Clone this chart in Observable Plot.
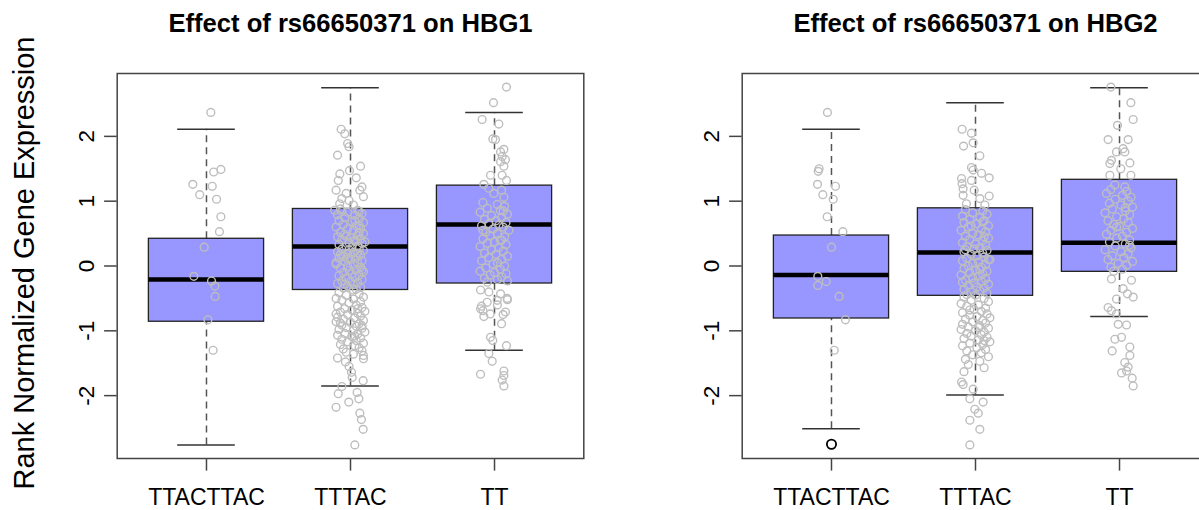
<!DOCTYPE html>
<html><head><meta charset="utf-8">
<script src="https://cdn.jsdelivr.net/npm/d3@7"></script>
<script src="https://cdn.jsdelivr.net/npm/@observablehq/plot@0.6"></script>
<style>
body{margin:0;background:#fff;}
#wrap{position:relative;width:1199px;height:510px;overflow:hidden;background:#fff;}
#wrap svg{position:absolute;top:0;}
</style></head>
<body><div id="wrap"></div>
<script>
const categories = ["TTACTTAC", "TTTAC", "TT"];
const yTicks = [-2, -1, 0, 1, 2];
const titles = ["Effect of rs66650371 on HBG1", "Effect of rs66650371 on HBG2"];
const yLabel = "Rank Normalized Gene Expression";

// box statistics (per category)
const hbg1Lo  = [-2.76, -1.85, -1.30];
const hbg1Q1  = [-0.86, -0.37, -0.27];
const hbg1Med = [-0.21,  0.30,  0.64];
const hbg1Q3  = [ 0.42,  0.88,  1.24];
const hbg1Hi  = [ 2.11,  2.75,  2.37];

const hbg2Lo  = [-2.51, -1.99, -0.78];
const hbg2Q1  = [-0.81, -0.46, -0.09];
const hbg2Med = [-0.14,  0.21,  0.36];
const hbg2Q3  = [ 0.47,  0.89,  1.33];
const hbg2Hi  = [ 2.11,  2.52,  2.75];

const hbg2OutlierGroup = [1];
const hbg2OutlierValue = [-2.75];

// jittered observations: [jitter offset, value]
const hbg1_TTACTTAC = [[0.03,2.37],[0.10,1.49],[0.05,1.45],[-0.095,1.26],[0.04,1.23],[-0.047,1.10],[0.07,1.03],[0.10,0.76],[0.09,0.53],[-0.016,0.29],[-0.088,-0.16],[0.035,-0.23],[0.058,-0.31],[0.06,-0.47],[0.01,-0.83],[0.046,-1.30]];

const hbg1_TTTAC = [[-0.065,2.11],[-0.04,2.04],[-0.02,1.89],[-0.01,1.84],[-0.09,1.71],[0.07,1.54],[-0.007,1.47],[-0.074,1.42],[0.04,1.36],[-0.085,1.32],[0.08,1.22],[0.09,1.07],[-0.10,1.17],[0.065,1.17],[-0.03,1.12],[-0.06,1.04],[-0.01,1.01],[-0.075,0.96],[0.02,0.94],[-0.11,0.86],[0.06,0.84],
[-0.07,0.88],[0.05,0.86],[-0.02,0.83],[0.08,0.81],[-0.09,0.79],[0.03,0.78],[-0.04,0.75],[0.06,0.73],[-0.08,0.70],[0.01,0.69],[0.09,0.67],[-0.05,0.64],[0.04,0.62],[-0.1,0.60],[0.07,0.58],[-0.02,0.57],[0.02,0.55],[-0.07,0.52],[0.09,0.50],[-0.04,0.49],[0.05,0.47],[-0.09,0.45],[0.0,0.44],[0.07,0.42],[-0.06,0.40],[0.03,0.38],[-0.01,0.36],[0.08,0.35],[-0.08,0.33],[0.05,0.31],[-0.03,0.30],[0.01,0.29],[0.06,0.27],[-0.06,0.26],[0.09,0.24],[-0.09,0.22],[0.02,0.21],[-0.02,0.19],[0.07,0.17],[-0.05,0.15],[0.04,0.13],[-0.08,0.12],[0.0,0.10],[0.08,0.08],[-0.04,0.07],[0.05,0.05],[-0.1,0.03],[0.02,0.02],[-0.02,0.0],[0.07,-0.02],[-0.07,-0.03],[0.04,-0.05],[-0.01,-0.07],[0.09,-0.09],[-0.05,-0.10],[0.01,-0.12],[0.06,-0.14],[-0.08,-0.15],[0.03,-0.17],[-0.03,-0.19],[0.08,-0.21],[-0.06,-0.23],[0.0,-0.24],[0.05,-0.26],[-0.09,-0.27],[0.02,-0.29],[-0.02,-0.31],[0.07,-0.33],[-0.05,-0.34],[0.04,-0.36],
[0.06,0.52],[-0.03,0.46],[0.03,0.40],[-0.07,0.18],[0.05,0.20],[-0.01,0.25],[0.08,-0.06],[-0.04,-0.28],[0.03,0.70],[-0.06,0.84],[0.1,0.37],[-0.1,0.05],[0.02,-0.37],[0.06,0.62],[-0.02,0.11],
[-0.08,-0.41],[0.06,-0.43],[-0.03,-0.45],[0.09,-0.48],[-0.1,-0.50],[0.02,-0.51],[-0.06,-0.53],[0.07,-0.55],[-0.01,-0.57],[0.04,-0.60],[-0.09,-0.62],[0.08,-0.64],[-0.04,-0.66],[0.01,-0.68],[0.1,-0.70],[-0.07,-0.71],[0.05,-0.73],[-0.02,-0.75],[0.07,-0.77],[-0.09,-0.79],[0.03,-0.80],[-0.05,-0.82],[0.09,-0.84],[-0.1,-0.86],[0.0,-0.87],[0.06,-0.89],[-0.06,-0.91],[0.04,-0.93],[-0.03,-0.95],[0.08,-0.96],[-0.08,-0.98],[0.02,-1.00],[0.1,-1.02],[-0.04,-1.04],[0.05,-1.05],[-0.09,-1.07],[0.01,-1.09],[0.07,-1.11],[-0.06,-1.13],[0.04,-1.15],[-0.02,-1.17],[0.09,-1.19],[-0.07,-1.21],[0.03,-1.23],[0.06,-1.26],[-0.05,-1.28],[0.08,-1.31],[-0.03,-1.33],[0.02,-1.36],[0.09,-1.38],[0.05,-0.66],[-0.07,-0.88],[0.08,-0.92],[0.03,-1.08],[-0.1,-0.74],
[-0.09,-1.42],[0.09,-1.43],[-0.035,-1.48],[-0.01,-1.55],[0.007,-1.64],[0.012,-1.72],[0.088,-1.77],[-0.06,-1.86],[-0.085,-1.97],[0.046,-1.95],[-0.012,-2.10],[0.058,-2.05],[-0.10,-2.18],[0.065,-2.27],[0.076,-2.37],[0.088,-2.52],[0.03,-2.76]];

const hbg1_TT = [[0.083,2.76],[-0.007,2.52],[-0.086,2.26],[0.03,2.19],[-0.012,1.96],[0.007,1.95],[0.065,1.80],[0.042,1.76],[0.053,1.69],[0.076,1.64],[0.042,1.61],[0.065,1.54],[-0.028,1.40],[0.053,1.40],[0.083,1.32],[-0.074,1.26],[-0.039,1.20],[0.049,1.17],[-0.005,1.12],[0.065,1.06],
[-0.08,0.98],[0.02,0.95],[0.07,0.92],[-0.05,0.89],[0.04,0.86],[-0.1,0.83],[0.09,0.80],[-0.02,0.78],[0.05,0.75],[-0.07,0.72],[0.01,0.70],[0.08,0.67],[-0.04,0.65],[0.03,0.63],[-0.09,0.62],[0.06,0.60],[-0.01,0.57],[0.1,0.55],[-0.06,0.52],[0.02,0.50],[-0.03,0.47],[0.07,0.45],[-0.08,0.42],[0.04,0.40],[0.0,0.37],[-0.05,0.35],[0.08,0.33],[-0.1,0.30],[0.03,0.28],[-0.02,0.25],[0.06,0.23],[-0.07,0.20],[0.01,0.18],[0.09,0.15],[-0.04,0.13],[0.05,0.10],[-0.09,0.08],[0.02,0.05],[-0.01,0.03],[0.07,0.00],[-0.06,-0.03],[0.04,-0.05],[-0.1,-0.08],[0.0,-0.10],[0.08,-0.12],[-0.03,-0.14],[0.05,-0.17],[-0.07,-0.19],[0.02,-0.21],[0.09,-0.23],[-0.05,-0.25],[-0.08,0.55],[0.06,0.85],[0.05,0.40],
[-0.097,-0.37],[-0.039,-0.40],[0.042,-0.43],[0.088,-0.50],[-0.051,-0.56],[0.019,-0.53],[-0.097,-0.66],[-0.074,-0.78],[0.076,-0.71],[0.049,-0.89],[-0.028,-1.10],[-0.012,-1.15],[0.083,-1.23],[-0.039,-1.35],[-0.016,-1.47],[-0.097,-1.67],[0.065,-1.62],[0.065,-1.69],[0.053,-1.76],[0.065,-1.85],
[-0.09,-0.62],[0.02,-0.60],[0.09,-0.52],[-0.03,-0.74],[0.06,-0.75],[-0.08,-0.69]];

const hbg2_TTACTTAC = [[-0.028,2.37],[-0.086,1.50],[-0.092,1.46],[-0.097,1.26],[0.028,1.23],[-0.06,1.10],[0.012,1.03],[-0.03,0.76],[0.079,0.53],[0.0,0.29],[-0.095,-0.16],[-0.037,-0.24],[-0.095,-0.30],[0.053,-0.47],[0.097,-0.83],[0.019,-1.30]];

const hbg2_TTTAC = [[-0.093,2.11],[-0.028,2.05],[-0.083,1.85],[-0.016,1.90],[0.03,1.70],[-0.028,1.52],[-0.016,1.48],[0.042,1.43],[0.095,1.36],[-0.097,1.35],[-0.093,1.27],[-0.086,1.19],[-0.028,1.32],[-0.009,1.17],[0.095,1.08],[-0.086,1.09],[0.03,1.04],[-0.063,0.96],[0.065,0.94],
[-0.07,0.87],[0.05,0.85],[-0.02,0.82],[0.08,0.80],[-0.09,0.77],[0.03,0.75],[-0.04,0.72],[0.06,0.70],[-0.08,0.67],[0.01,0.65],[0.09,0.62],[-0.05,0.60],[0.04,0.57],[-0.1,0.55],[0.07,0.53],[-0.02,0.50],[0.02,0.48],[-0.07,0.46],[0.09,0.43],[-0.04,0.41],[0.05,0.39],[-0.09,0.36],[0.0,0.34],[0.07,0.32],[-0.06,0.30],[0.03,0.28],[-0.01,0.26],[0.08,0.24],[-0.08,0.22],[0.05,0.20],[-0.03,0.18],[0.01,0.16],[0.06,0.14],[-0.06,0.12],[0.09,0.10],[-0.09,0.08],[0.02,0.06],[-0.02,0.04],[0.07,0.02],[-0.05,0.00],[0.04,-0.02],[-0.08,-0.04],[0.0,-0.06],[0.08,-0.08],[-0.04,-0.10],[0.05,-0.12],[-0.1,-0.14],[0.02,-0.16],[-0.02,-0.18],[0.07,-0.20],[-0.07,-0.22],[0.04,-0.24],[-0.01,-0.26],[0.09,-0.28],[-0.05,-0.30],[0.01,-0.32],[0.06,-0.34],[-0.08,-0.36],[0.03,-0.38],[-0.03,-0.40],[0.08,-0.42],[-0.06,-0.44],[0.0,-0.45],[0.06,0.45],[-0.03,0.62],[0.03,-0.05],[-0.07,0.25],[0.05,0.68],[-0.09,-0.25],[0.1,0.10],
[-0.08,-0.48],[0.06,-0.50],[-0.03,-0.53],[0.09,-0.55],[-0.1,-0.58],[0.02,-0.60],[-0.06,-0.62],[0.07,-0.65],[-0.01,-0.67],[0.04,-0.70],[-0.09,-0.72],[0.08,-0.74],[-0.04,-0.76],[0.01,-0.78],[0.1,-0.80],[-0.07,-0.82],[0.05,-0.84],[-0.02,-0.86],[0.07,-0.88],[-0.09,-0.90],[0.03,-0.92],[-0.05,-0.94],[0.09,-0.96],[-0.1,-0.98],[0.0,-1.00],[0.06,-1.02],[-0.06,-1.04],[0.04,-1.06],[-0.03,-1.08],[0.08,-1.10],[-0.08,-1.12],[0.02,-1.14],[0.1,-1.17],[-0.04,-1.19],[0.05,-1.21],[-0.09,-1.23],[0.01,-1.26],[0.07,-1.29],[-0.06,-1.31],[0.04,-1.34],[-0.02,-1.37],[0.09,-1.40],[-0.07,-1.44],[0.03,-1.47],[-0.05,-1.52],[0.06,-1.57],[-0.08,-1.63],[0.02,-0.95],[-0.04,-0.68],[0.06,-1.15],
[-0.097,-1.79],[-0.086,-1.83],[-0.016,-1.90],[-0.039,-2.05],[0.053,-2.10],[-0.005,-2.21],[0.019,-2.27],[-0.039,-2.38],[0.03,-2.52],[-0.039,-2.76]];

const hbg2_TT = [[-0.06,2.76],[0.079,2.52],[0.095,2.26],[-0.014,2.17],[-0.079,1.95],[0.06,1.95],[0.025,1.81],[-0.021,1.76],[0.037,1.76],[-0.056,1.63],[-0.067,1.58],[0.072,1.59],[0.009,1.50],[-0.067,1.40],[0.079,1.40],[-0.032,1.25],[0.037,1.22],
[-0.06,1.18],[0.05,1.15],[-0.09,1.12],[0.02,1.09],[0.08,1.06],[-0.03,1.03],[0.06,1.00],[-0.07,0.97],[0.01,0.94],[0.09,0.91],[-0.05,0.88],[0.04,0.85],[-0.1,0.82],[0.07,0.79],[-0.02,0.76],[0.03,0.73],[-0.08,0.70],[0.06,0.67],[-0.04,0.64],[0.0,0.61],[0.09,0.58],[-0.06,0.55],[0.05,0.52],[-0.09,0.49],[0.02,0.46],[-0.02,0.43],[0.07,0.40],[-0.07,0.37],[0.04,0.34],[-0.03,0.31],[0.08,0.28],[-0.1,0.25],[0.01,0.22],[0.06,0.19],[-0.05,0.16],[0.03,0.13],[-0.08,0.10],[0.09,0.07],[-0.01,0.04],[0.05,0.01],[-0.06,-0.02],[0.02,-0.05],[-0.04,-0.08],[0.07,0.32],[-0.02,0.60],[0.04,0.90],
[-0.056,-0.20],[0.083,-0.22],[0.025,-0.35],[0.055,-0.43],[-0.021,-0.51],[0.095,-0.48],[-0.079,-0.64],[-0.056,-0.69],[-0.021,-0.74],[-0.009,-0.90],[0.049,-0.91],[-0.032,-1.13],[0.014,-1.10],[-0.051,-1.31],[0.072,-1.25],[0.072,-1.38],[0.037,-1.49],[0.06,-1.56],[0.014,-1.65],[0.049,-1.62],[0.088,-1.73],[0.095,-1.85]];

const FONT = "'Liberation Sans', Arial, Helvetica, sans-serif";

function panel({title, lo, q1, med, q3, hi, groups, outG, outV, withYLabel}) {
  const stats = categories.map((c, k) => ({i: k + 1, lo: lo[k], q1: q1[k], med: med[k], q3: q3[k], hi: hi[k]}));
  const pts = groups.flatMap((arr, k) => arr.map(([j, v]) => ({x: k + 1 + j, v})));
  const outs = outG.map((g, k) => ({x: g, v: outV[k]}));
  const marks = [
    Plot.ruleX(stats, {x: "i", y1: "q3", y2: "hi", stroke: "#555", strokeWidth: 1.5, strokeDasharray: "7,5"}),
    Plot.ruleX(stats, {x: "i", y1: "lo", y2: "q1", stroke: "#555", strokeWidth: 1.5, strokeDasharray: "7,5"}),
    Plot.ruleY(stats, {y: "hi", x1: d => d.i - 0.2, x2: d => d.i + 0.2, stroke: "#333", strokeWidth: 1.5}),
    Plot.ruleY(stats, {y: "lo", x1: d => d.i - 0.2, x2: d => d.i + 0.2, stroke: "#333", strokeWidth: 1.5}),
    Plot.rect(stats, {x1: d => d.i - 0.4, x2: d => d.i + 0.4, y1: "q1", y2: "q3", fill: "#9797ff", stroke: "#222", strokeWidth: 1.3}),
    Plot.ruleY(stats, {y: "med", x1: d => d.i - 0.4, x2: d => d.i + 0.4, stroke: "#000", strokeWidth: 4.5}),
    Plot.dot(outs, {x: "x", y: "v", r: 4.6, stroke: "#000", strokeWidth: 1.8, fill: "none"}),
    Plot.dot(pts, {x: "x", y: "v", r: 3.9, stroke: "#bebebe", strokeWidth: 1.4, fill: "none"}),
    Plot.frame({stroke: "#444", strokeWidth: 1.5}),
    Plot.axisX({ticks: [1, 2, 3], tickFormat: d => categories[d - 1], tickSize: 12.6, tickPadding: 18, fontSize: 23, label: null, stroke: "#444", strokeWidth: 1.5, fill: "#000"}),
    Plot.axisY({ticks: yTicks, tickFormat: () => "", tickSize: 12.6, label: null, stroke: "#444", strokeWidth: 1.5}),
    Plot.text(yTicks, {y: d => d, text: d => String(d), frameAnchor: "left", rotate: -90, dx: -30, fontSize: 22.5, lineAnchor: "middle", textAnchor: "middle", fill: "#000"}),
    Plot.text([title], {frameAnchor: "top", dy: -50, fontSize: 25.6, fontWeight: "bold", lineAnchor: "middle", textAnchor: "middle", fill: "#000"})
  ];
  if (withYLabel) marks.push(Plot.text([yLabel], {frameAnchor: "left", rotate: -90, dx: -92, dy: -3, fontSize: 29, lineAnchor: "middle", textAnchor: "middle", fill: "#000"}));
  return Plot.plot({
    width: 600, height: 510,
    marginLeft: 116.7, marginRight: 16.7, marginTop: 73, marginBottom: 52,
    style: {fontFamily: FONT, background: "transparent", overflow: "visible", color: "#000"},
    x: {domain: [0.38, 3.62], axis: null},
    y: {domain: [-2.97, 2.97], axis: null},
    marks
  });
}

const wrap = document.getElementById("wrap");
const p1 = panel({title: titles[0], lo: hbg1Lo, q1: hbg1Q1, med: hbg1Med, q3: hbg1Q3, hi: hbg1Hi,
  groups: [hbg1_TTACTTAC, hbg1_TTTAC, hbg1_TT], outG: [], outV: [], withYLabel: true});
const p2 = panel({title: titles[1], lo: hbg2Lo, q1: hbg2Q1, med: hbg2Med, q3: hbg2Q3, hi: hbg2Hi,
  groups: [hbg2_TTACTTAC, hbg2_TTTAC, hbg2_TT], outG: hbg2OutlierGroup, outV: hbg2OutlierValue, withYLabel: false});
p1.style.left = "0px";
p2.style.left = "625.3px";
wrap.appendChild(p1);
wrap.appendChild(p2);
</script>
</body></html>
